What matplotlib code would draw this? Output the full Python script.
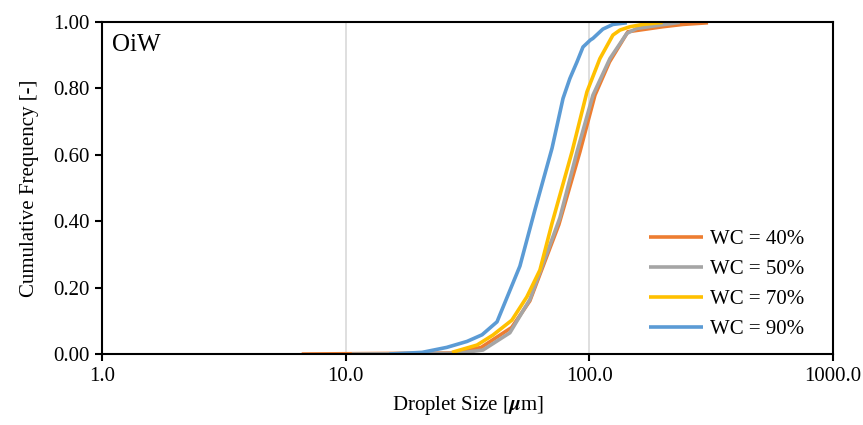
import matplotlib.pyplot as plt
from matplotlib.ticker import FixedLocator, FormatStrFormatter, NullLocator

plt.rcParams['font.family'] = ['Liberation Serif', 'DejaVu Serif']
plt.rcParams['mathtext.fontset'] = 'stix'

# droplet size [um] and cumulative frequency for each water cut
size_40 = [6.6, 28.0, 36.0, 48.0, 57.0, 75.0, 91.5, 105.5, 121.0, 144.0, 200.0, 242.0, 307.0]
freq_40 = [0.0, 0.003, 0.02, 0.08, 0.16, 0.39, 0.609, 0.78, 0.88, 0.971, 0.986, 0.993, 0.998]

size_50 = [10.6, 28.6, 36.6, 47.2, 57.1, 75.7, 89.0, 103.5, 121.5, 142.6, 156.8, 195.0, 235.0]
freq_50 = [0.0, 0.002, 0.012, 0.064, 0.165, 0.41, 0.609, 0.78, 0.89, 0.966, 0.981, 0.991, 0.999]

size_70 = [27.3, 34.6, 40.2, 48.1, 55.4, 62.7, 70.3, 84.9, 97.8, 110.5, 125.0, 133.6, 146.8, 166.0, 200.0]
freq_70 = [0.005, 0.027, 0.057, 0.102, 0.172, 0.253, 0.394, 0.609, 0.79, 0.89, 0.961, 0.976, 0.986, 0.993, 0.999]

size_90 = [15.1, 20.6, 26.0, 31.5, 36.3, 41.8, 51.9, 59.8, 70.3, 78.0, 83.2, 89.0, 94.2, 101.0, 103.5,
           113.7, 125.0, 142.6]
freq_90 = [0.0, 0.005, 0.02, 0.038, 0.058, 0.097, 0.265, 0.434, 0.62, 0.77, 0.83, 0.88, 0.925, 0.946,
           0.951, 0.979, 0.993, 0.998]

series = [
    ('WC = 40%', size_40, freq_40, '#ED7D31'),
    ('WC = 50%', size_50, freq_50, '#A5A5A5'),
    ('WC = 70%', size_70, freq_70, '#FFC000'),
    ('WC = 90%', size_90, freq_90, '#5B9BD5'),
]

fig = plt.figure(figsize=(8.63, 4.25), dpi=100)
ax = fig.add_axes([0.1182, 0.167, 0.847, 0.781])

for label, x, y, c in series:
    ax.plot(x, y, color=c, lw=2.6, label=label, solid_capstyle='butt')

ax.set_xscale('log')
ax.set_xlim(1, 1000)
ax.set_ylim(0, 1)
ax.xaxis.set_major_locator(FixedLocator([1, 10, 100, 1000]))
ax.xaxis.set_minor_locator(NullLocator())
ax.xaxis.set_major_formatter(FormatStrFormatter('%.1f'))
ax.set_yticks([0, 0.2, 0.4, 0.6, 0.8, 1.0])
ax.yaxis.set_major_formatter(FormatStrFormatter('%.2f'))

ax.grid(axis='x', color='#d9d9d9', lw=1.2)
ax.set_axisbelow(True)

for s in ax.spines.values():
    s.set_linewidth(1.5)
    s.set_color('black')
ax.tick_params(axis='both', direction='out', length=5, width=1.5, labelsize=15, pad=4)

ax.set_xlabel(r'Droplet Size [$\boldsymbol{\mu}$m]', fontsize=15, labelpad=6)
ax.set_ylabel('Cumulative Frequency [-]', fontsize=15, labelpad=10)

ax.text(0.013, 0.965, 'OiW', transform=ax.transAxes, fontsize=18, va='top', ha='left')

ax.legend(loc='lower right', bbox_to_anchor=(0.986, -0.012), frameon=False, fontsize=15,
          handlelength=2.6, handletextpad=0.3, labelspacing=0.5)

fig.savefig('out.png', dpi=100)
